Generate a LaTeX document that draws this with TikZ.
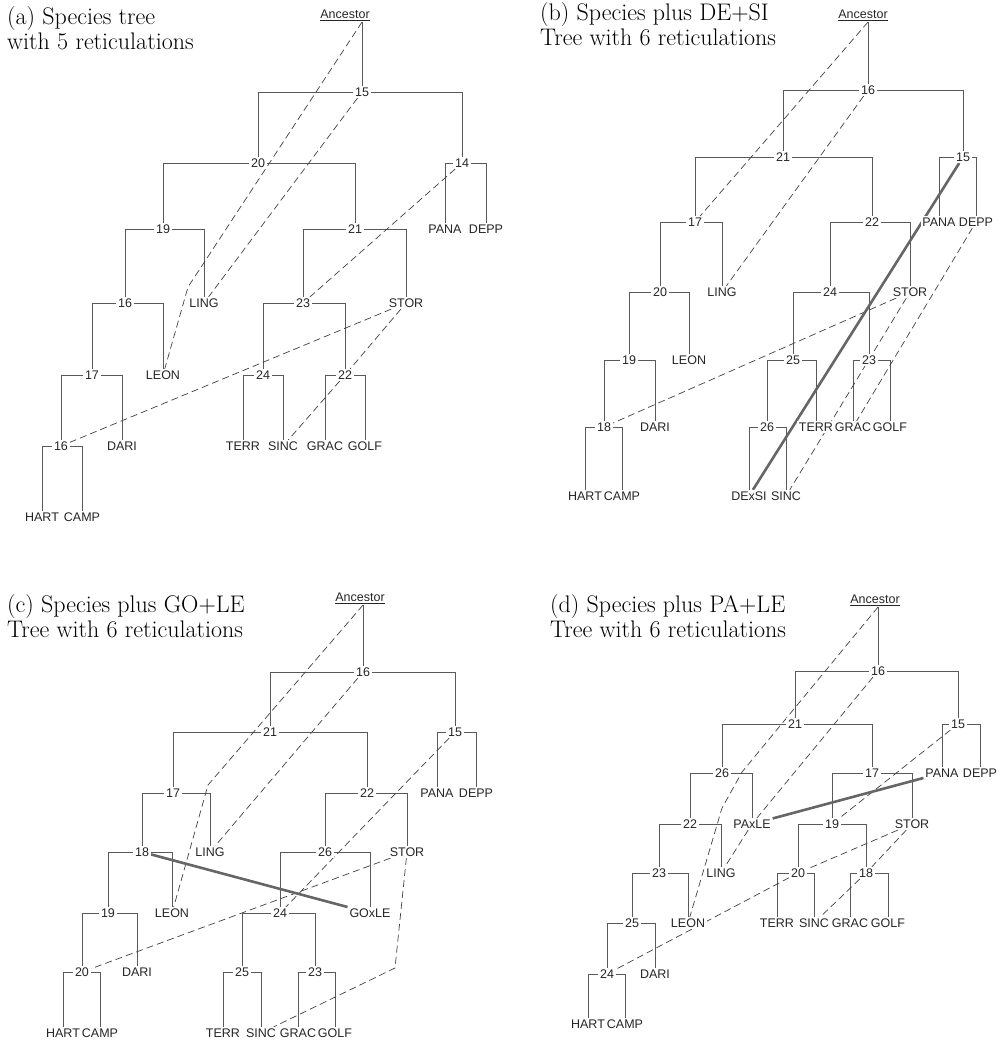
\documentclass[tikz,border=0pt]{standalone}
\usepackage{fontspec}
\usepackage{tikz}
\usetikzlibrary{backgrounds}
\newfontfamily\labelsans{Liberation Sans}
\tikzset{
    % Tree styles
    lbl/.style={font=\labelsans\fontsize{12.5}{14}\selectfont, text=black!85, fill=white, inner xsep=1.8pt, inner ysep=1.5pt},
    anc/.style={lbl, fill=none},
    title/.style={anchor=north west, inner sep=0pt, align=left, font=\fontsize{24}{25}\selectfont},
    branch/.style={draw=black!65, line width=0.7pt},
    % Reticulation styles
    retic/.style={draw=black!75, line width=0.7pt, dash pattern=on 7pt off 4pt},
    hybrid/.style={draw=black!60, line width=2.6pt}
}

\begin{document}
\begin{tikzpicture}[x=1pt, y=-1pt]
    \useasboundingbox (0,0) rectangle (1007,1043);

    % (a) Species tree
    \node[title] (ta) at (7,6) {(a) Species tree\\with 5 reticulations};
    \node[anc] (aA) at (345,15) {\underline{Ancestor}};
    \node[lbl] (a15) at (362,92) {15};
    \node[lbl] (a20) at (258,163) {20};
    \node[lbl] (a14) at (462,163) {14};
    \node[lbl] (a19) at (163,229) {19};
    \node[lbl] (a21) at (355,229) {21};
    \node[lbl] (aPANA) at (445,229) {PANA};
    \node[lbl] (aDEPP) at (486,229) {DEPP};
    \node[lbl] (a16) at (125,303) {16};
    \node[lbl] (aLING) at (204,303) {LING};
    \node[lbl] (a23) at (303,303) {23};
    \node[lbl] (aSTOR) at (406,303) {STOR};
    \node[lbl] (a17) at (92,375) {17};
    \node[lbl] (aLEON) at (163,375) {LEON};
    \node[lbl] (a24) at (263,375) {24};
    \node[lbl] (a22) at (345,375) {22};
    \node[lbl] (a16b) at (61,446) {16};
    \node[lbl] (aDARI) at (122,446) {DARI};
    \node[lbl] (aTERR) at (243,446) {TERR};
    \node[lbl] (aSINC) at (283,446) {SINC};
    \node[lbl] (aGRAC) at (325,446) {GRAC};
    \node[lbl] (aGOLF) at (365,446) {GOLF};
    \node[lbl] (aHART) at (42,517) {HART};
    \node[lbl] (aCAMP) at (82,517) {CAMP};
    \coordinate (ak1) at (188,287);

    % (b) Species plus DE+SI
    \node[title] (tb) at (540,2) {(b) Species plus DE+SI\\Tree with 6 reticulations};
    \node[anc] (bA) at (863,15) {\underline{Ancestor}};
    \node[lbl] (b16) at (868,90) {16};
    \node[lbl] (b21) at (783,157) {21};
    \node[lbl] (b15) at (963,157) {15};
    \node[lbl] (b17) at (695,222) {17};
    \node[lbl] (b22) at (872,222) {22};
    \node[lbl] (bPANA) at (939,222) {PANA};
    \node[lbl] (bDEPP) at (976,222) {DEPP};
    \node[lbl] (b20) at (660,292) {20};
    \node[lbl] (bLING) at (722,292) {LING};
    \node[lbl] (b24) at (830,292) {24};
    \node[lbl] (bSTOR) at (910,292) {STOR};
    \node[lbl] (b19) at (629,360) {19};
    \node[lbl] (bLEON) at (689,360) {LEON};
    \node[lbl] (b25) at (793,360) {25};
    \node[lbl] (b23) at (869,360) {23};
    \node[lbl] (b18) at (604,427) {18};
    \node[lbl] (bDARI) at (655,427) {DARI};
    \node[lbl] (b26) at (767,427) {26};
    \node[lbl] (bTERR) at (816,427) {TERR};
    \node[lbl] (bGRAC) at (853,427) {GRAC};
    \node[lbl] (bGOLF) at (890,427) {GOLF};
    \node[lbl] (bHART) at (585,496) {HART};
    \node[lbl] (bCAMP) at (622,496) {CAMP};
    \node[lbl] (bDExSI) at (749,496) {DExSI};
    \node[lbl] (bSINC) at (786,496) {SINC};

    % (c) Species plus GO+LE
    \node[title] (tc) at (7,594) {(c) Species plus GO+LE\\Tree with 6 reticulations};
    \node[anc] (cA) at (360,598) {\underline{Ancestor}};
    \node[lbl] (c16) at (363,672) {16};
    \node[lbl] (c21) at (270,732) {21};
    \node[lbl] (c15) at (455,732) {15};
    \node[lbl] (c17) at (173,793) {17};
    \node[lbl] (c22) at (367,793) {22};
    \node[lbl] (cPANA) at (437,793) {PANA};
    \node[lbl] (cDEPP) at (476,793) {DEPP};
    \node[lbl] (c18) at (142,852) {18};
    \node[lbl] (cLING) at (210,852) {LING};
    \node[lbl] (c26) at (325,852) {26};
    \node[lbl] (cSTOR) at (407,852) {STOR};
    \node[lbl] (c19) at (108,913) {19};
    \node[lbl] (cLEON) at (172,913) {LEON};
    \node[lbl] (c24) at (280,913) {24};
    \node[lbl] (cGOxLE) at (370,913) {GOxLE};
    \node[lbl] (c20) at (82,972) {20};
    \node[lbl] (cDARI) at (137,972) {DARI};
    \node[lbl] (c25) at (242,972) {25};
    \node[lbl] (c23) at (315,972) {23};
    \node[lbl] (cHART) at (63,1033) {HART};
    \node[lbl] (cCAMP) at (100,1033) {CAMP};
    \node[lbl] (cTERR) at (223,1033) {TERR};
    \node[lbl] (cSINC) at (261,1033) {SINC};
    \node[lbl] (cGRAC) at (298,1033) {GRAC};
    \node[lbl] (cGOLF) at (335,1033) {GOLF};
    \coordinate (ck1) at (208,785);
    \coordinate (ck2) at (395,968);

    % (d) Species plus PA+LE
    \node[title] (td) at (550,594) {(d) Species plus PA+LE\\Tree with 6 reticulations};
    \node[anc] (dA) at (875,600) {\underline{Ancestor}};
    \node[lbl] (d16) at (878,671) {16};
    \node[lbl] (d21) at (795,724) {21};
    \node[lbl] (d15) at (958,724) {15};
    \node[lbl] (d26) at (722,773) {26};
    \node[lbl] (d17) at (872,773) {17};
    \node[lbl] (dPANA) at (942,773) {PANA};
    \node[lbl] (dDEPP) at (980,773) {DEPP};
    \node[lbl] (d22) at (690,824) {22};
    \node[lbl] (dPAxLE) at (752,824) {PAxLE};
    \node[lbl] (d19) at (832,824) {19};
    \node[lbl] (dSTOR) at (912,824) {STOR};
    \node[lbl] (d23) at (659,873) {23};
    \node[lbl] (dLING) at (721,873) {LING};
    \node[lbl] (d20) at (798,873) {20};
    \node[lbl] (d18) at (866,873) {18};
    \node[lbl] (d25) at (632,923) {25};
    \node[lbl] (dLEON) at (688,923) {LEON};
    \node[lbl] (dTERR) at (777,923) {TERR};
    \node[lbl] (dSINC) at (814,923) {SINC};
    \node[lbl] (dGRAC) at (850,923) {GRAC};
    \node[lbl] (dGOLF) at (888,923) {GOLF};
    \node[lbl] (d24) at (607,974) {24};
    \node[lbl] (dDARI) at (655,974) {DARI};
    \node[lbl] (dHART) at (588,1024) {HART};
    \node[lbl] (dCAMP) at (625,1024) {CAMP};
    \coordinate (dk1) at (742,772);
    \coordinate (dk2) at (722,808);

    \begin{pgfonlayer}{background}
    % branches (a)
    \draw[branch] (aA.south -| a15) -- (a15);
    \draw[branch] (a15) -| (a20) (a15) -| (a14);
    \draw[branch] (a20) -| (a19) (a20) -| (a21);
    \draw[branch] (a14) -| (aPANA) (a14) -| (aDEPP);
    \draw[branch] (a19) -| (a16) (a19) -| (aLING);
    \draw[branch] (a21) -| (a23) (a21) -| (aSTOR);
    \draw[branch] (a16) -| (a17) (a16) -| (aLEON);
    \draw[branch] (a23) -| (a24) (a23) -| (a22);
    \draw[branch] (a17) -| (a16b) (a17) -| (aDARI);
    \draw[branch] (a24) -| (aTERR) (a24) -| (aSINC);
    \draw[branch] (a22) -| (aGRAC) (a22) -| (aGOLF);
    \draw[branch] (a16b) -| (aHART) (a16b) -| (aCAMP);
    % reticulations (a)
    \draw[retic] (aA.south -| a15) -- (ak1) -- (aLEON);
    \draw[retic] (a15) -- (aLING);
    \draw[retic] (a14) -- (a23);
    \draw[retic] (aSTOR) -- (a16b);
    \draw[retic] (aSTOR) -- (a22);
    \draw[retic] (a22) -- (aSINC);

    % branches (b)
    \draw[branch] (bA.south -| b16) -- (b16);
    \draw[branch] (b16) -| (b21) (b16) -| (b15);
    \draw[branch] (b21) -| (b17) (b21) -| (b22);
    \draw[branch] (b15) -| (bPANA) (b15) -| (bDEPP);
    \draw[branch] (b17) -| (b20) (b17) -| (bLING);
    \draw[branch] (b22) -| (b24) (b22) -| (bSTOR);
    \draw[branch] (b20) -| (b19) (b20) -| (bLEON);
    \draw[branch] (b24) -| (b25) (b24) -| (b23);
    \draw[branch] (b19) -| (b18) (b19) -| (bDARI);
    \draw[branch] (b25) -| (b26) (b25) -| (bTERR);
    \draw[branch] (b23) -| (bGRAC) (b23) -| (bGOLF);
    \draw[branch] (b18) -| (bHART) (b18) -| (bCAMP);
    \draw[branch] (b26) -| (bDExSI) (b26) -| (bSINC);
    % reticulations (b)
    \draw[retic] (bA.south -| b16) -- (b17);
    \draw[retic] (b16) -- (bLING);
    \draw[retic] (bSTOR) -- (b18);
    \draw[retic] (bSTOR) -- (bSINC);
    \draw[retic] (bDEPP) -- (bGRAC);
    \draw[hybrid] (b15) -- (bDExSI);

    % branches (c)
    \draw[branch] (cA.south -| c16) -- (c16);
    \draw[branch] (c16) -| (c21) (c16) -| (c15);
    \draw[branch] (c21) -| (c17) (c21) -| (c22);
    \draw[branch] (c15) -| (cPANA) (c15) -| (cDEPP);
    \draw[branch] (c17) -| (c18) (c17) -| (cLING);
    \draw[branch] (c22) -| (c26) (c22) -| (cSTOR);
    \draw[branch] (c18) -| (c19) (c18) -| (cLEON);
    \draw[branch] (c26) -| (c24) (c26) -| (cGOxLE);
    \draw[branch] (c19) -| (c20) (c19) -| (cDARI);
    \draw[branch] (c24) -| (c25) (c24) -| (c23);
    \draw[branch] (c20) -| (cHART) (c20) -| (cCAMP);
    \draw[branch] (c25) -| (cTERR) (c25) -| (cSINC);
    \draw[branch] (c23) -| (cGRAC) (c23) -| (cGOLF);
    % reticulations (c)
    \draw[retic] (cA.south -| c16) -- (ck1) -- (cLEON);
    \draw[retic] (c16) -- (cLING);
    \draw[retic] (c15) -- (c24);
    \draw[retic] (cSTOR) -- (c20);
    \draw[retic] (cSTOR) -- (ck2) -- (cSINC);
    \draw[hybrid] (c18) -- (cGOxLE);

    % branches (d)
    \draw[branch] (dA.south -| d16) -- (d16);
    \draw[branch] (d16) -| (d21) (d16) -| (d15);
    \draw[branch] (d21) -| (d26) (d21) -| (d17);
    \draw[branch] (d15) -| (dPANA) (d15) -| (dDEPP);
    \draw[branch] (d26) -| (d22) (d26) -| (dPAxLE);
    \draw[branch] (d17) -| (d19) (d17) -| (dSTOR);
    \draw[branch] (d22) -| (d23) (d22) -| (dLING);
    \draw[branch] (d19) -| (d20) (d19) -| (d18);
    \draw[branch] (d23) -| (d25) (d23) -| (dLEON);
    \draw[branch] (d20) -| (dTERR) (d20) -| (dSINC);
    \draw[branch] (d18) -| (dGRAC) (d18) -| (dGOLF);
    \draw[branch] (d25) -| (d24) (d25) -| (dDARI);
    \draw[branch] (d24) -| (dHART) (d24) -| (dCAMP);
    % reticulations (d)
    \draw[retic] (dA.south -| d16) -- (dk1) -- (dk2) -- (dLEON);
    \draw[retic] (d16) -- (dPAxLE);
    \draw[retic] (d15) -- (d19);
    \draw[retic] (dPAxLE) -- (dLING);
    \draw[retic] (dSTOR) -- (d20);
    \draw[retic] (dSTOR) -- (d18);
    \draw[retic] (d20) -- (d24);
    \draw[retic] (d18) -- (dSINC);
    \draw[hybrid] (dPAxLE) -- (dPANA);
    \end{pgfonlayer}
\end{tikzpicture}
\end{document}
